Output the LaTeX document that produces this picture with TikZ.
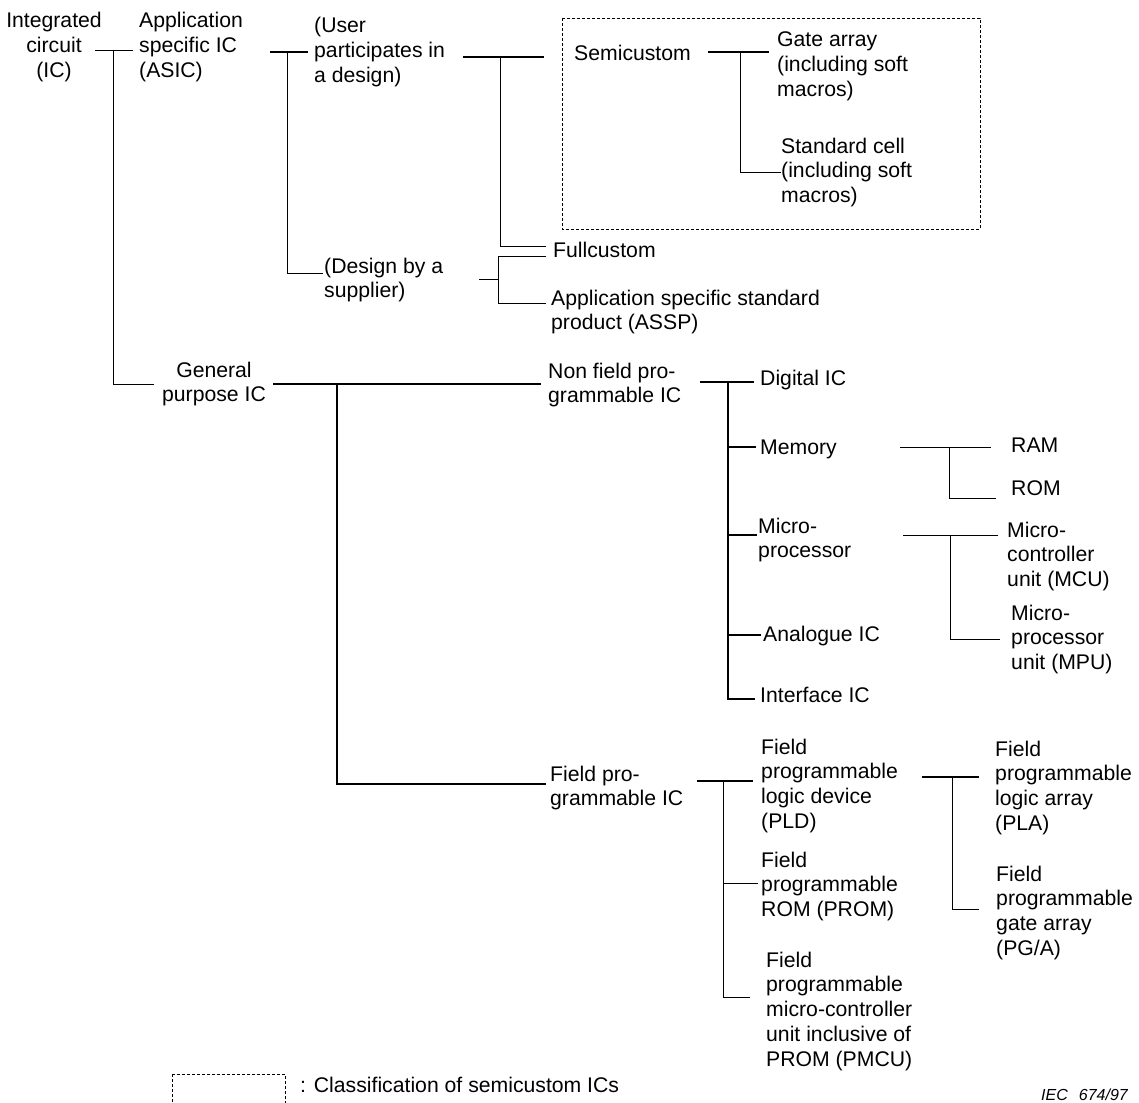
\documentclass[tikz,border=0pt]{standalone}
\usepackage{fontspec}
\setmainfont{Liberation Sans}
\usepackage{tikz}

\tikzset{
  lbl/.style={inner sep=0pt, anchor=base west, align=left,
    font=\fontsize{21.2}{24.8}\selectfont},
  clbl/.style={lbl, anchor=base, align=center},
  bline/.style={line width=1.5pt},
  nline/.style={line width=0.9pt},
  semibox/.style={line width=0.7pt, dash pattern=on 3pt off 2pt}
}

\begin{document}
\begin{tikzpicture}[x=1pt,y=-1pt]
    \useasboundingbox (0,0) rectangle (1139,1102);
    % Draw the labels of the classes (placed at the baseline of their last line)
    \node[clbl] (ic) at (54,77.6) {Integrated\\circuit\\(IC)};
    \node[lbl] (asic) at (139,77.6) {Application\\specific IC\\(ASIC)};
    \node[lbl] (user) at (314,82.6) {(User\\participates in\\a design)};
    \node[lbl] (design) at (324,297.8) {(Design by a\\supplier)};
    \node[lbl] (semi) at (574,61) {Semicustom};
    \node[lbl] (gate) at (777,96.6) {Gate array\\(including soft\\macros)};
    \node[lbl] (std) at (781,202.6) {Standard cell\\(including soft\\macros)};
    \node[lbl] (full) at (553,257) {Fullcustom};
    \node[lbl] (assp) at (551,329.8) {Application specific standard\\product (ASSP)};
    \node[clbl] (gp) at (214,401.8) {General\\purpose IC};
    \node[lbl] (nonfp) at (548,402.8) {Non field pro-\\grammable IC};
    \node[lbl] (digital) at (760,385) {Digital IC};
    \node[lbl] (memory) at (760,454) {Memory};
    \node[lbl] (micro) at (758,557.8) {Micro-\\processor};
    \node[lbl] (analogue) at (763,641) {Analogue IC};
    \node[lbl] (interface) at (760,702) {Interface IC};
    \node[lbl] (ram) at (1011,452) {RAM};
    \node[lbl] (rom) at (1011,495) {ROM};
    \node[lbl] (mcu) at (1007,586.6) {Micro-\\controller\\unit (MCU)};
    \node[lbl] (mpu) at (1011,669.6) {Micro-\\processor\\unit (MPU)};
    \node[lbl] (fpic) at (550,805.8) {Field pro-\\grammable IC};
    \node[lbl] (pld) at (761,828.4) {Field\\programmable\\logic device\\(PLD)};
    \node[lbl] (prom) at (761,916.6) {Field\\programmable\\ROM (PROM)};
    \node[lbl] (pmcu) at (766,1066.2) {Field\\programmable\\micro-controller\\unit inclusive of\\PROM (PMCU)};
    \node[lbl] (pla) at (995,830.4) {Field\\programmable\\logic array\\(PLA)};
    \node[lbl] (pga) at (996,955.4) {Field\\programmable\\gate array\\(PG/A)};
    % Stems, junctions and line ends of the tree
    \foreach \n/\x/\y in {ic-o/95/50.5, ic-j/113/50.5, asic-in/133/50.5, gp-in/154/384,
        asic-o/270/52, asic-j/287.5/52, user-in/308/52, design-in/323/273,
        user-o/463/57, user-j/500/57, semi-in/544/57, full-in/546/246,
        design-o/479/279, design-j/498/279, full-in2/546/256, assp-in/546/303,
        semi-o/708/52, semi-j/740/52, gate-in/769/52, std-in/781/172,
        gp-o/273/384, gp-j/337/384, nonfp-in/541/384, fpic-in/546/784,
        nonfp-o/700/382, nonfp-j/728/382, digital-in/754/382, memory-in/756/447,
        micro-in/757/535, analogue-in/761/635, interface-in/755/699,
        memory-o/900/447, memory-j/949/447, ram-in/991/447, rom-in/996/498,
        micro-o/903/535, micro-j/950/535, mcu-in/998/535, mpu-in/1000/639,
        fpic-o/697/781, fpic-j/723/781, pld-in/753/781, prom-in/758/883, pmcu-in/750/997,
        pld-o/922/777, pld-j/952/777, pla-in/979/777, pga-in/979/909}{
      \coordinate (\n) at (\x,\y);
    }
    % Draw the branches
    \draw[bline] (ic-o) -- (asic-in);
    \draw[nline] (ic-j) |- (gp-in);
    \draw[bline] (asic-o) -- (user-in);
    \draw[nline] (asic-j) |- (design-in);
    \draw[bline] (user-o) -- (semi-in);
    \draw[nline] (user-j) |- (full-in);
    \draw[nline] (design-o) -- (design-j);
    \draw[nline] (full-in2) -- (design-j |- full-in2) |- (assp-in);
    \draw[bline] (semi-o) -- (gate-in);
    \draw[nline] (semi-j) |- (std-in);
    \draw[bline] (gp-o) -- (nonfp-in);
    \draw[bline] (gp-j) |- (fpic-in);
    \draw[bline] (nonfp-o) -- (digital-in);
    \foreach \c in {memory-in, micro-in, analogue-in, interface-in}{
      \draw[bline] (nonfp-j) |- (\c);
    }
    \draw[nline] (memory-o) -- (ram-in);
    \draw[nline] (memory-j) |- (rom-in);
    \draw[nline] (micro-o) -- (mcu-in);
    \draw[nline] (micro-j) |- (mpu-in);
    \draw[bline] (fpic-o) -- (pld-in);
    \draw[nline] (fpic-j) |- (pmcu-in);
    \draw[nline] (fpic-j |- prom-in) -- (prom-in);
    \draw[bline] (pld-o) -- (pla-in);
    \draw[nline] (pld-j) |- (pga-in);
    % Draw the semicustom frame and the key
    \draw[semibox] (562,18) rectangle (980,229);
    \draw[semibox] (172.5,1074) rectangle (285,1110);
    \node[lbl] (key) at (300,1092) {: Classification of semicustom ICs};
    \node[lbl, anchor=base east, font=\fontsize{16}{18}\selectfont\itshape] (iec) at (1128,1100) {IEC\hspace{11pt}674/97};
\end{tikzpicture}
\end{document}
